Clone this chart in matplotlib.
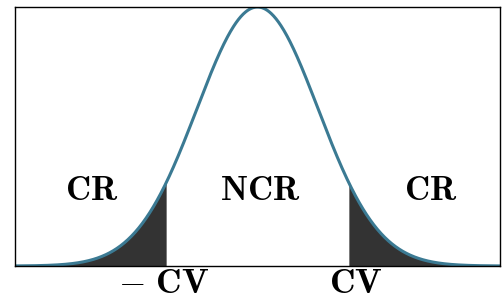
import numpy as np
import matplotlib.pyplot as plt
import matplotlib.transforms as mtransforms

plt.rcParams['mathtext.fontset'] = 'cm'

x_min, x_max = -4.0, 4.0
cv = 1.5
labels = ["CR", "NCR", "CR"]
label_x = [-2.73, 0.04, 2.85]
label_y = 0.117
tick_pos = [-cv, cv]
tick_labels = [r'$\mathbf{-\ CV}$', r'$\mathbf{CV}$']

x = np.linspace(x_min, x_max, 800)
y = np.exp(-x ** 2 / 2) / np.sqrt(2 * np.pi)

fig = plt.figure(figsize=(5.03, 3.0), dpi=100)
ax = fig.add_axes([15 / 503, 34 / 300, 485 / 503, 259 / 300])

ax.fill_between(x, 0, y, where=x <= -cv, color='#333333', linewidth=0)
ax.fill_between(x, 0, y, where=x >= cv, color='#333333', linewidth=0)
ax.plot(x, y, color='#3b7a93', linewidth=2.2)

for lx, lab in zip(label_x, labels):
    ax.text(lx, label_y, r'$\mathbf{%s}$' % lab, fontsize=25, ha='center', va='center')

ax.set_xlim(x_min, x_max)
ax.set_ylim(0, y.max())
ax.set_xticks(tick_pos)
ax.set_xticklabels(tick_labels, fontsize=25.5)
ax.tick_params(axis='x', length=0, pad=0)
ax.set_yticks([])
for s in ax.spines.values():
    s.set_linewidth(1.0)

# small horizontal nudges of the tick labels
for lbl, dx in zip(ax.get_xticklabels(), [-3, 7]):
    lbl.set_transform(lbl.get_transform() + mtransforms.ScaledTranslation(dx / 100, 0, fig.dpi_scale_trans))

fig.savefig("out.png", dpi=100)
